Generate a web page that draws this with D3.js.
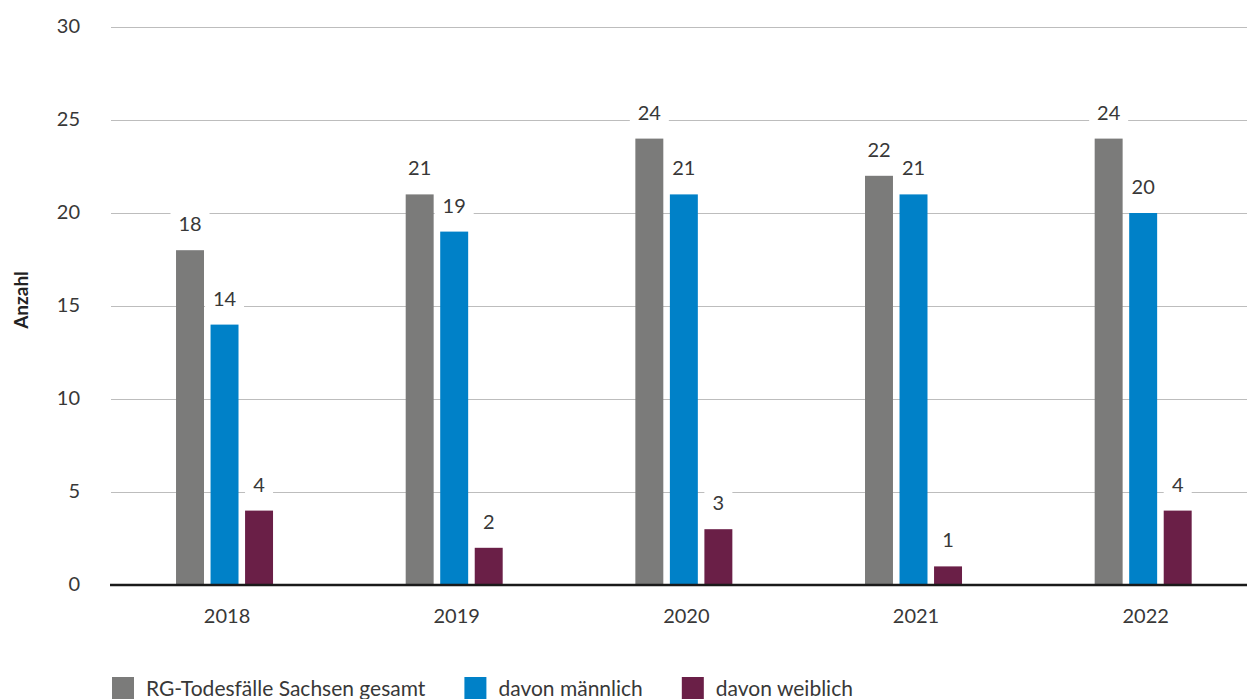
<!DOCTYPE html>
<html lang="de">
<head>
<meta charset="utf-8">
<title>RG-Todesfälle Sachsen</title>
<script src="https://cdn.jsdelivr.net/npm/d3@7"></script>
<style>
  html, body { margin: 0; padding: 0; background: #fff; }
  svg { display: block; font-family: Lato, "Open Sans", sans-serif; }
</style>
</head>
<body>
<svg id="chart" width="1247" height="699"></svg>
<script>
// Jahre und Werte je Reihe
const years = ["2018", "2019", "2020", "2021", "2022"];
const gesamt = [18, 21, 24, 22, 24];
const maennlich = [14, 19, 21, 21, 20];
const weiblich = [4, 2, 3, 1, 4];
const seriesNames = ["RG-Todesfälle Sachsen gesamt", "davon männlich", "davon weiblich"];
const seriesColors = ["#7b7b7a", "#0081c8", "#6a1f47"];
const yTicks = [0, 5, 10, 15, 20, 25, 30];
const yTitle = "Anzahl";

const seriesValues = [gesamt, maennlich, weiblich];
const keys = ["g", "m", "w"];
const rows = years.map((yr, i) => {
  const r = { year: yr };
  keys.forEach((k, j) => r[k] = seriesValues[j][i]);
  return r;
});

const W = 1247, H = 699;
const plot = { left: 111, right: 1247, top: 27, bottom: 585 };
const textColor = "#383838";
const fontSize = 20;
const fontFamily = "Lato, 'Open Sans', sans-serif";

const svg = d3.select("#chart");

const y = d3.scaleLinear().domain([0, 30]).range([plot.bottom, plot.top]);
const x = d3.scaleBand().domain(years).range([112.2, 1260.5]).paddingInner(0).paddingOuter(0);
// group of three bars inside each year slot
const groupWidth = 97;
const inner = d3.scaleBand().domain(keys).range([0, groupWidth]).paddingInner(0.19).paddingOuter(0);
const groupStart = yr => x(yr) + x.bandwidth() / 2 - groupWidth / 2 - 2.5;

// y axis with gridlines
const yAxis = svg.append("g")
  .attr("transform", `translate(${plot.left},0)`)
  .call(d3.axisLeft(y).tickValues(yTicks).tickSize(-(plot.right - plot.left)).tickPadding(31));
yAxis.select(".domain").remove();
yAxis.selectAll(".tick line").attr("stroke", "#bdbdbd").attr("stroke-width", 1.2)
  .filter(d => d === 0).remove();
yAxis.selectAll(".tick text")
  .attr("font-size", fontSize).attr("fill", textColor)
  .attr("font-family", fontFamily)
  .attr("dy", "0.28em");

// axis title
svg.append("text")
  .attr("transform", "translate(20,300) rotate(-90)")
  .attr("text-anchor", "middle")
  .attr("dominant-baseline", "central")
  .attr("font-weight", "bold")
  .attr("font-size", 19)
  .attr("fill", "#222")
  .text(yTitle);

const cells = rows.flatMap(r => keys.map((k, j) => ({ year: r.year, key: k, value: r[k], color: seriesColors[j] })));

// white boxes behind value labels (break the gridlines)
const labelY = d => y(d.value) - 19;
const cx = d => groupStart(d.year) + inner(d.key) + inner.bandwidth() / 2;
svg.append("g").selectAll("rect")
  .data(cells).join("rect")
  .attr("x", d => cx(d) - (String(d.value).length * 11 + 17) / 2)
  .attr("width", d => String(d.value).length * 11 + 17)
  .attr("y", d => labelY(d) - 21)
  .attr("height", 27)
  .attr("fill", "#fff");

// bars
svg.append("g").selectAll("rect")
  .data(cells).join("rect")
  .attr("x", d => groupStart(d.year) + inner(d.key))
  .attr("width", inner.bandwidth())
  .attr("y", d => y(d.value))
  .attr("height", d => y(0) - y(d.value))
  .attr("fill", d => d.color);

// value labels
svg.append("g").selectAll("text")
  .data(cells).join("text")
  .attr("x", cx)
  .attr("y", labelY)
  .attr("text-anchor", "middle")
  .attr("font-size", fontSize)
  .attr("fill", textColor)
  .text(d => d.value);

// baseline
svg.append("line")
  .attr("x1", 110).attr("x2", plot.right)
  .attr("y1", y(0)).attr("y2", y(0))
  .attr("stroke", "#1a1a1a").attr("stroke-width", 2.4);

// x axis labels
const xAxis = svg.append("g")
  .attr("transform", `translate(0,${plot.bottom})`)
  .call(d3.axisBottom(x).tickSize(0).tickPadding(24));
xAxis.select(".domain").remove();
xAxis.selectAll(".tick text")
  .attr("font-size", fontSize).attr("fill", textColor)
  .attr("font-family", fontFamily);

// legend
const legend = svg.append("g").attr("transform", "translate(112,677)");
let lx = 0;
seriesNames.forEach((name, i) => {
  const g = legend.append("g").attr("transform", `translate(${lx},0)`);
  g.append("rect").attr("width", 22).attr("height", 22).attr("fill", seriesColors[i]);
  const t = g.append("text").attr("x", 34).attr("y", 19)
    .attr("font-size", 21).attr("fill", textColor).text(name);
  lx += 34 + t.node().getComputedTextLength() + 39;
});
</script>
</body>
</html>
